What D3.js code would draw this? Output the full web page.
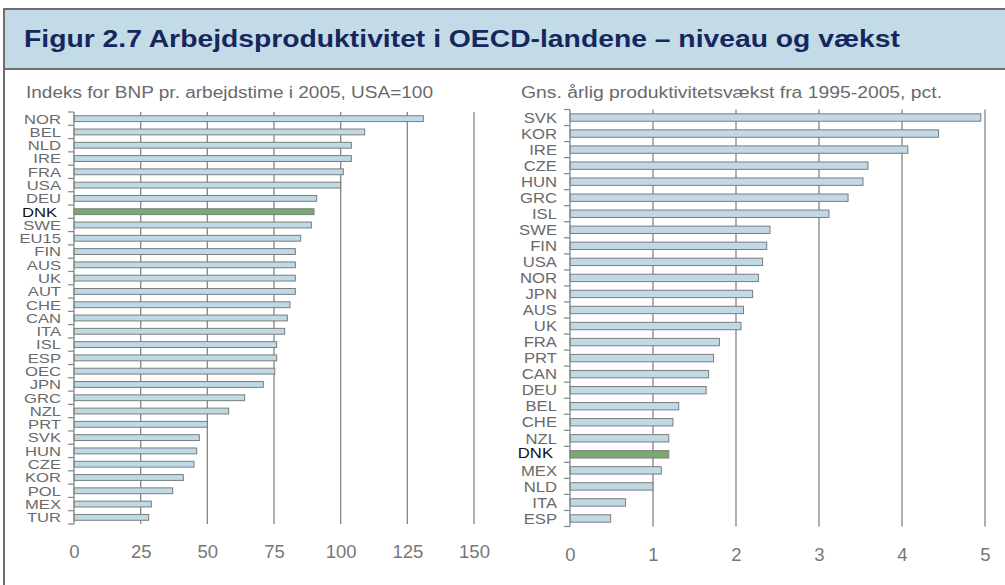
<!DOCTYPE html>
<html><head><meta charset="utf-8">
<script src="https://cdn.jsdelivr.net/npm/d3@7/dist/d3.min.js"></script>
<style>
html,body{margin:0;padding:0;background:#fff;}
svg{display:block;font-family:"Liberation Sans",Arial,sans-serif;}
</style></head>
<body><svg id="c" width="1005" height="585"></svg>
<script>
const title = "Figur 2.7 Arbejdsproduktivitet i OECD-landene – niveau og vækst";
const subtitleLeft = "Indeks for BNP pr. arbejdstime i 2005, USA=100";
const subtitleRight = "Gns. årlig produktivitetsvækst fra 1995-2005, pct.";
const highlight = "DNK";

const levelCountries = ["NOR","BEL","NLD","IRE","FRA","USA","DEU","DNK","SWE","EU15","FIN","AUS","UK","AUT","CHE","CAN","ITA","ISL","ESP","OEC","JPN","GRC","NZL","PRT","SVK","HUN","CZE","KOR","POL","MEX","TUR"];
const levelValues = [131,109,104,104,101,100,91,90,89,85,83,83,83,83,81,80,79,76,76,75.3,71,64,58,50,47,46,45,41,37,29,28];
const levelTicks = [0,25,50,75,100,125,150];

const growthCountries = ["SVK","KOR","IRE","CZE","HUN","GRC","ISL","SWE","FIN","USA","NOR","JPN","AUS","UK","FRA","PRT","CAN","DEU","BEL","CHE","NZL","DNK","MEX","NLD","ITA","ESP"];
const growthValues = [4.95,4.44,4.07,3.59,3.53,3.35,3.12,2.41,2.37,2.32,2.27,2.20,2.09,2.06,1.80,1.73,1.67,1.64,1.31,1.24,1.19,1.19,1.10,1.00,0.67,0.49];
const growthTicks = [0,1,2,3,4,5];

const svg = d3.select("#c");
const frame = "#6e6e6e";

// title band
svg.append("rect").attr("x",4).attr("y",9).attr("width",1001).attr("height",60).attr("fill","#c3dbe7");
svg.append("line").attr("x1",3).attr("x2",1005).attr("y1",9).attr("y2",9).attr("stroke",frame).attr("stroke-width",2);
svg.append("line").attr("x1",4).attr("x2",1005).attr("y1",69).attr("y2",69).attr("stroke",frame).attr("stroke-width",2);
svg.append("line").attr("x1",4).attr("x2",4).attr("y1",8).attr("y2",585).attr("stroke",frame).attr("stroke-width",2);
svg.append("text").attr("x",24).attr("y",47).attr("font-size",23).attr("font-weight","bold")
  .attr("textLength",876).attr("lengthAdjust","spacingAndGlyphs")
  .attr("fill","#15275c").text(title);

function panel(cfg){
  const g = svg.append("g");
  const x = d3.scaleLinear().domain([cfg.ticks[0], cfg.ticks[cfg.ticks.length-1]]).range(cfg.xr);
  const y = d3.scaleBand().domain(cfg.cats).range(cfg.yr);
  const bw = y.bandwidth();
  const bh = bw*cfg.barFrac;
  g.append("text").attr("x",cfg.subX).attr("y",97.5).attr("font-size",16).attr("fill","#6a6a6a")
    .attr("textLength",cfg.subW).attr("lengthAdjust","spacingAndGlyphs").text(cfg.sub);
  // gridlines
  g.selectAll("line.grid").data(cfg.ticks.slice(1)).join("line")
    .attr("x1",d=>x(d)).attr("x2",d=>x(d)).attr("y1",cfg.yr[0]).attr("y2",cfg.yr[1])
    .attr("stroke","#858585").attr("stroke-width",1.3);
  // bars
  g.selectAll("rect.bar").data(cfg.cats).join("rect")
    .attr("x",x(0)).attr("y",(d)=>y(d)+(bw-bh)/2)
    .attr("width",(d,i)=>x(cfg.vals[i])-x(0)).attr("height",bh)
    .attr("fill",d=>d===highlight?"#78aa6f":"#c0d9e6")
    .attr("stroke","#7c7c7c").attr("stroke-width",1);
  // y axis line and ticks
  g.append("line").attr("x1",x(0)).attr("x2",x(0)).attr("y1",cfg.yr[0]).attr("y2",cfg.yr[1])
    .attr("stroke","#858585").attr("stroke-width",1.3);
  const bounds = cfg.cats.map(c=>y(c)).concat([cfg.yr[1]]);
  g.selectAll("line.tk").data(bounds).join("line")
    .attr("x1",x(0)-6).attr("x2",x(0)).attr("y1",d=>d).attr("y2",d=>d)
    .attr("stroke","#858585").attr("stroke-width",1.2);
  // category labels
  g.selectAll("text.cat").data(cfg.cats).join("text")
    .attr("transform",d=>`translate(${x(0)-13-(d===highlight?4:0)},${y(d)+bw/2+(d===highlight&&cfg.dnkUp?-2:0)}) scale(${cfg.labScale},1)`)
    .attr("dy","0.36em").attr("text-anchor","end").attr("font-size",cfg.labSize)
    .attr("fill",d=>d===highlight?"#111":"#6a6a6a").text(d=>d);
  // x tick labels
  const ax = g.append("g").attr("transform",`translate(0,${cfg.tickY})`)
    .call(d3.axisBottom(x).tickValues(cfg.ticks).tickSize(0).tickPadding(0).tickFormat(d3.format("d")));
  ax.select(".domain").remove();
  ax.selectAll("text").attr("font-size",18.5).attr("fill","#777").attr("font-family","Liberation Sans, Arial, sans-serif").attr("dy","0");
}

panel({cats:levelCountries, vals:levelValues, ticks:levelTicks, xr:[74,474], yr:[112,524], barFrac:0.44, sub:subtitleLeft, subX:26, subW:407, tickY:558, dnkUp:false, labSize:13.5, labScale:1.23});
panel({cats:growthCountries, vals:growthValues, ticks:growthTicks, xr:[570,985], yr:[109.5,526.5], barFrac:0.46, sub:subtitleRight, subX:521, subW:421, tickY:561, dnkUp:true, labSize:14.5, labScale:1.15});
</script></body></html>
